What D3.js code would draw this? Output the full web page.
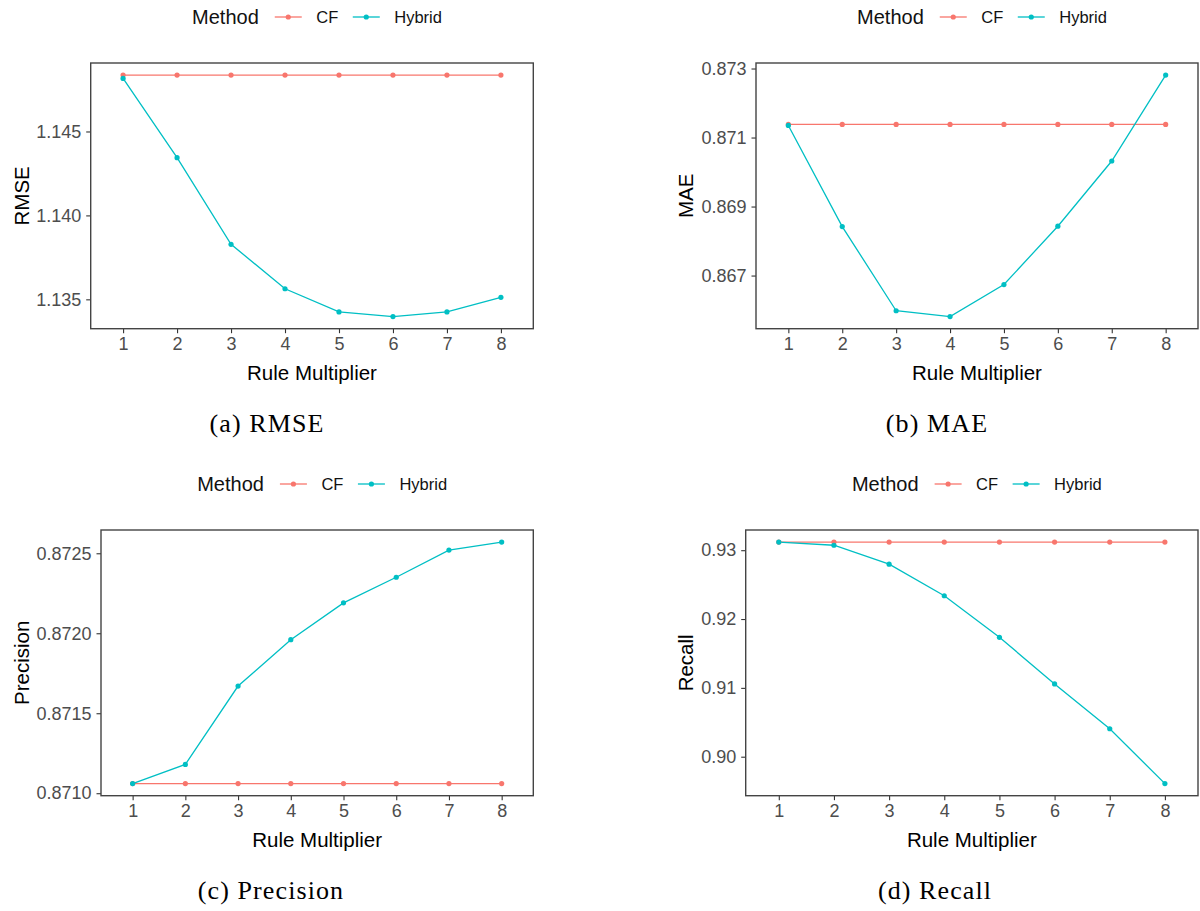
<!DOCTYPE html>
<html>
<head>
<meta charset="utf-8">
<script src="https://cdn.jsdelivr.net/npm/d3@7"></script>
<style>
  html, body { margin: 0; padding: 0; background: #fff; }
  svg { display: block; }
</style>
</head>
<body>
<svg id="chart" width="1200" height="911"></svg>
<script>
// ---------------- DATA ----------------
const multipliers = [1, 2, 3, 4, 5, 6, 7, 8];
const methods = ["CF", "Hybrid"];

const rmseCF      = [1.14836, 1.14836, 1.14836, 1.14836, 1.14836, 1.14836, 1.14836, 1.14836];
const rmseHybrid  = [1.14816, 1.14344, 1.13828, 1.13563, 1.13425, 1.13397, 1.13425, 1.13512];
const rmseTicks   = [1.135, 1.140, 1.145];

const maeCF       = [0.87138, 0.87138, 0.87138, 0.87138, 0.87138, 0.87138, 0.87138, 0.87138];
const maeHybrid   = [0.87135, 0.86842, 0.86598, 0.86581, 0.86674, 0.86843, 0.87032, 0.87281];
const maeTicks    = [0.867, 0.869, 0.871, 0.873];

const precCF      = [0.87106, 0.87106, 0.87106, 0.87106, 0.87106, 0.87106, 0.87106, 0.87106];
const precHybrid  = [0.87106, 0.87118, 0.87167, 0.87196, 0.87219, 0.87235, 0.87252, 0.87257];
const precTicks   = [0.8710, 0.8715, 0.8720, 0.8725];

const recallCF     = [0.93118, 0.93118, 0.93118, 0.93118, 0.93118, 0.93118, 0.93118, 0.93118];
const recallHybrid = [0.93118, 0.93072, 0.92797, 0.92338, 0.91735, 0.91058, 0.90406, 0.89609];
const recallTicks  = [0.90, 0.91, 0.92, 0.93];

const xTitle = "Rule Multiplier";
const legendTitle = "Method";

// ---------------- LAYOUT ----------------
const colors = { CF: "#F8766D", Hybrid: "#00BFC4" };

const panels = [
  { ytitle: "RMSE", caption: "(a) RMSE", cf: rmseCF, hy: rmseHybrid, ticks: rmseTicks, fmt: ".3f",
    x0: 90.7, x1: 533.3, y0: 63, y1: 328.7, legendY: 17, capX: 267, capY: 432, ytX: 28.5 },
  { ytitle: "MAE", caption: "(b) MAE", cf: maeCF, hy: maeHybrid, ticks: maeTicks, fmt: ".3f",
    x0: 756, x1: 1198, y0: 63, y1: 328.7, legendY: 17, capX: 937, capY: 432, ytX: 693 },
  { ytitle: "Precision", caption: "(c) Precision", cf: precCF, hy: precHybrid, ticks: precTicks, fmt: ".4f",
    x0: 101, x1: 533.3, y0: 530, y1: 795.7, legendY: 484, capX: 271, capY: 899, ytX: 29 },
  { ytitle: "Recall", caption: "(d) Recall", cf: recallCF, hy: recallHybrid, ticks: recallTicks, fmt: ".2f",
    x0: 745.7, x1: 1198, y0: 530, y1: 795.7, legendY: 484, capX: 935, capY: 899, ytX: 693 }
];

const svg = d3.select("#chart");
const sans = "'Liberation Sans', Arial, sans-serif";
const serif = "'Liberation Serif', 'Times New Roman', serif";

panels.forEach(p => {
  const g = svg.append("g");

  const x = d3.scalePoint().domain(multipliers).range([p.x0, p.x1]).padding(0.6);
  const all = p.cf.concat(p.hy);
  const mn = d3.min(all), mx = d3.max(all), r = mx - mn;
  const y = d3.scaleLinear().domain([mn - 0.05 * r, mx + 0.05 * r]).range([p.y1, p.y0]);

  // axes
  const xAxis = g.append("g")
    .attr("transform", `translate(0,${p.y1})`)
    .call(d3.axisBottom(x).tickSizeOuter(0).tickSize(4.5).tickPadding(4));
  const yAxis = g.append("g")
    .attr("transform", `translate(${p.x0},0)`)
    .call(d3.axisLeft(y).tickValues(p.ticks).tickFormat(d3.format(p.fmt)).tickSizeOuter(0).tickSize(4.5).tickPadding(5));
  [xAxis, yAxis].forEach(a => {
    a.select(".domain").remove();
    a.selectAll(".tick line").attr("stroke", "#333").attr("stroke-width", 1.1);
    a.selectAll(".tick text").attr("fill", "#4D4D4D").style("font-family", sans).style("font-size", "18px");
  });
  xAxis.selectAll(".tick text").attr("dy", "0.71em");

  // series
  const series = [
    { name: "CF", vals: p.cf },
    { name: "Hybrid", vals: p.hy }
  ];
  const line = d3.line().x((d, i) => x(multipliers[i])).y(d => y(d));
  series.forEach(s => {
    g.append("path").datum(s.vals)
      .attr("fill", "none").attr("stroke", colors[s.name]).attr("stroke-width", 1.3)
      .attr("d", line);
  });
  series.forEach(s => {
    g.selectAll(null).data(s.vals).enter().append("circle")
      .attr("cx", (d, i) => x(multipliers[i])).attr("cy", d => y(d))
      .attr("r", 2.6).attr("fill", colors[s.name]);
  });

  // panel border
  g.append("rect")
    .attr("x", p.x0).attr("y", p.y0)
    .attr("width", p.x1 - p.x0).attr("height", p.y1 - p.y0)
    .attr("fill", "none").attr("stroke", "#444").attr("stroke-width", 1.4);

  // x title
  g.append("text")
    .attr("x", (p.x0 + p.x1) / 2).attr("y", p.y1 + 51)
    .attr("text-anchor", "middle")
    .style("font-family", sans).style("font-size", "20.5px").attr("fill", "#000")
    .text(xTitle);

  // y title
  g.append("text")
    .attr("transform", `translate(${p.ytX},${(p.y0 + p.y1) / 2}) rotate(-90)`)
    .attr("text-anchor", "middle")
    .style("font-family", sans).style("font-size", "20.5px").attr("fill", "#000")
    .text(p.ytitle);

  // legend
  const lg = g.append("g");
  let cx = 0;
  const t = lg.append("text").attr("x", cx).attr("y", 0).attr("dy", "0.35em")
    .style("font-family", sans).style("font-size", "20px").attr("fill", "#111").text(legendTitle);
  cx += t.node().getComputedTextLength() + 16;
  methods.forEach((m, i) => {
    lg.append("line").attr("x1", cx).attr("x2", cx + 27).attr("y1", 0).attr("y2", 0)
      .attr("stroke", colors[m]).attr("stroke-width", 1.3);
    lg.append("circle").attr("cx", cx + 13.5).attr("cy", 0).attr("r", 2.6).attr("fill", colors[m]);
    cx += 27 + 14.5;
    const tt = lg.append("text").attr("x", cx).attr("y", 0).attr("dy", "0.35em")
      .style("font-family", sans).style("font-size", "16.5px").attr("fill", "#111").text(m);
    cx += tt.node().getComputedTextLength() + (i === 0 ? 14.5 : 0);
  });
  const lw = cx;
  lg.attr("transform", `translate(${(p.x0 + p.x1) / 2 + 5 - lw / 2},${p.legendY})`);

  // caption
  svg.append("text")
    .attr("x", p.capX).attr("y", p.capY)
    .attr("text-anchor", "middle")
    .style("font-family", serif).style("font-size", "26px").style("letter-spacing", "1.1px")
    .attr("fill", "#000")
    .text(p.caption);
});
</script>
</body>
</html>
